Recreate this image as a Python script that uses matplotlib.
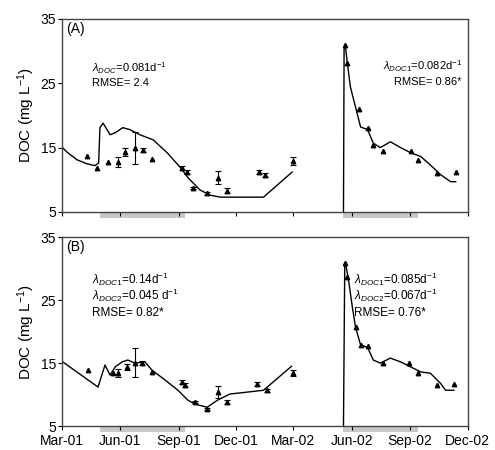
import numpy as np
import matplotlib.pyplot as plt
import matplotlib.dates as mdates
import matplotlib.transforms as mtransforms
from matplotlib.patches import Rectangle

plt.rcParams['font.family'] = ['Liberation Sans', 'DejaVu Sans']
plt.rcParams['mathtext.fontset'] = 'custom'
plt.rcParams['mathtext.rm'] = 'Liberation Sans'
plt.rcParams['mathtext.it'] = 'Liberation Sans:italic'

start = np.datetime64('2001-03-01')

# all x values are days since 1 Mar 2001
# panel A, model
a_fit1_day = [0, 8, 24, 39, 52, 58, 60, 65, 76, 84, 96, 107, 123, 144, 166, 186, 200, 218, 234, 250, 318, 363]
a_fit1_doc = [15.1, 14.3, 13.1, 12.5, 12.2, 12.6, 18.1, 18.8, 17.0, 17.3, 18.1, 17.8, 17.0, 16.2, 14.2, 12.0, 10.2, 8.4, 7.6, 7.3, 7.3, 11.2]
a_fit2_day = [444, 445, 447, 450, 455, 463, 471, 482, 491, 502, 518, 534, 550, 566, 581, 597, 613, 621]
a_fit2_doc = [5.0, 30.5, 30.8, 28.2, 24.4, 21.3, 18.2, 17.8, 15.7, 15.0, 15.9, 15.0, 14.2, 13.6, 12.3, 10.8, 9.7, 9.7]
# panel A, observed
a_obs_day = [39, 55, 73, 88, 100, 115, 128, 142, 190, 197, 207, 229, 246, 261, 311, 321, 365,
             447, 450, 468, 483, 491, 507, 550, 561, 592, 622]
a_obs_doc = [13.7, 11.8, 12.8, 12.8, 14.3, 15.0, 14.6, 13.2, 11.8, 11.2, 8.7, 7.9, 10.3, 8.3, 11.2, 10.8, 12.9,
             31.0, 28.2, 21.0, 18.1, 15.4, 14.5, 14.5, 13.1, 11.1, 11.2]
a_obs_err = [0, 0, 0, 0.8, 0.6, 2.5, 0.3, 0, 0.3, 0.3, 0.2, 0.2, 1.0, 0.4, 0.3, 0.3, 0.6,
             0, 0, 0, 0, 0, 0, 0, 0, 0, 0]

# panel B, model
b_fit1_day = [0, 57, 68, 76, 84, 95, 104, 115, 131, 142, 163, 183, 199, 210, 229, 245, 265, 292, 318, 362]
b_fit1_doc = [15.3, 11.2, 14.7, 13.1, 14.4, 15.2, 15.5, 15.0, 15.2, 13.9, 12.3, 10.7, 9.1, 8.5, 8.0, 9.1, 10.1, 10.4, 10.7, 14.5]
b_fit2_day = [444, 446, 447, 452, 458, 463, 471, 482, 491, 502, 518, 534, 550, 566, 581, 597, 605, 618]
b_fit2_doc = [5.0, 30.5, 31.0, 28.2, 23.9, 20.7, 17.9, 17.5, 15.5, 15.0, 15.8, 15.2, 14.4, 13.6, 13.4, 11.8, 10.7, 10.7]
# panel B, observed
b_obs_day = [41, 81, 88, 103, 115, 126, 142, 190, 194, 210, 229, 246, 261, 308, 324, 365,
             447, 450, 463, 471, 482, 507, 548, 561, 591, 619]
b_obs_doc = [13.9, 13.4, 13.4, 14.4, 15.1, 15.0, 13.6, 12.0, 11.5, 8.8, 7.7, 10.4, 8.8, 11.7, 10.7, 13.4,
             30.9, 28.7, 20.7, 17.9, 17.7, 15.0, 15.0, 13.4, 11.5, 11.7]
b_obs_err = [0, 0, 0.6, 0.5, 2.3, 0.3, 0, 0.3, 0.3, 0.2, 0.2, 1.0, 0.3, 0.3, 0.2, 0.5,
             0, 0, 0, 0, 0, 0, 0, 0, 0, 0]

# growing seasons (grey bars under the axis)
season_day = [(60, 194), (444, 562)]

a_text_left = [r'$\lambda_{DOC}$=0.081d$^{-1}$', 'RMSE= 2.4']
a_text_right = [r'$\lambda_{DOC1}$=0.082d$^{-1}$', 'RMSE= 0.86*']
b_text_left = [r'$\lambda_{DOC1}$=0.14d$^{-1}$', r'$\lambda_{DOC2}$=0.045 d$^{-1}$', 'RMSE= 0.82*']
b_text_right = [r'$\lambda_{DOC1}$=0.085d$^{-1}$', r'$\lambda_{DOC2}$=0.067d$^{-1}$', 'RMSE= 0.76*']


def to_date(days):
    return start + np.array(days).astype('timedelta64[D]')


fig = plt.figure(figsize=(4.95, 4.5), dpi=100)
ax_a = fig.add_axes([0.125, 0.529, 0.82, 0.429])
ax_b = fig.add_axes([0.125, 0.053, 0.82, 0.42])

panels = [
    (ax_a, a_fit1_day, a_fit1_doc, a_fit2_day, a_fit2_doc, a_obs_day, a_obs_doc, a_obs_err, '(A)'),
    (ax_b, b_fit1_day, b_fit1_doc, b_fit2_day, b_fit2_doc, b_obs_day, b_obs_doc, b_obs_err, '(B)'),
]

for ax, f1d, f1v, f2d, f2v, od, ov, oe, lab in panels:
    ax.plot(to_date(f1d), f1v, color='k', lw=1.0)
    ax.plot(to_date(f2d), f2v, color='k', lw=1.0)
    ax.plot(to_date(od), ov, '^', color='k', ms=3.2)
    oe = np.array(oe)
    m = oe > 0
    ax.errorbar(to_date(od)[m], np.array(ov)[m], yerr=oe[m], fmt='none',
                ecolor='k', elinewidth=0.8, capsize=2.5, capthick=0.8)

    ax.set_ylim(5, 35)
    ax.set_yticks([5, 15, 25, 35])
    ax.set_xlim(start, np.datetime64('2002-12-01'))
    ax.xaxis.set_major_locator(mdates.MonthLocator(bymonth=[3, 6, 9, 12]))
    ax.xaxis.set_major_formatter(mdates.DateFormatter('%b-%y'))
    ax.tick_params(direction='out', length=3, width=0.8, labelsize=10, pad=1)
    ax.tick_params(axis='x', pad=3)
    for s in ax.spines.values():
        s.set_color('#444444')
        s.set_linewidth(1.0)
    ax.set_ylabel('DOC (mg L$^{-1}$)', fontsize=11, labelpad=3)
    ax.text(0.01, 0.985, lab, transform=ax.transAxes, fontsize=10, va='top', ha='left')

    trans = mtransforms.blended_transform_factory(ax.transData, ax.transAxes)
    for s0, s1 in season_day:
        x0 = mdates.date2num(to_date([s0])[0])
        x1 = mdates.date2num(to_date([s1])[0])
        ax.add_patch(Rectangle((x0, -0.032), x1 - x0, 0.03, transform=trans,
                               facecolor='#c8c8c8', edgecolor='none', clip_on=False))

ax_a.tick_params(labelbottom=False)

for i, t in enumerate(a_text_left):
    ax_a.text(0.075, 0.725 - i * 0.075, t, transform=ax_a.transAxes, fontsize=8)
for i, t in enumerate(a_text_right):
    ax_a.text(0.985, 0.735 - i * 0.075, t, transform=ax_a.transAxes, fontsize=8, ha='right')
for i, t in enumerate(b_text_left):
    ax_b.text(0.075, 0.755 - i * 0.085, t, transform=ax_b.transAxes, fontsize=8.5)
for i, t in enumerate(b_text_right):
    ax_b.text(0.72, 0.755 - i * 0.085, t, transform=ax_b.transAxes, fontsize=8.5)

fig.savefig('out.png', dpi=100)
